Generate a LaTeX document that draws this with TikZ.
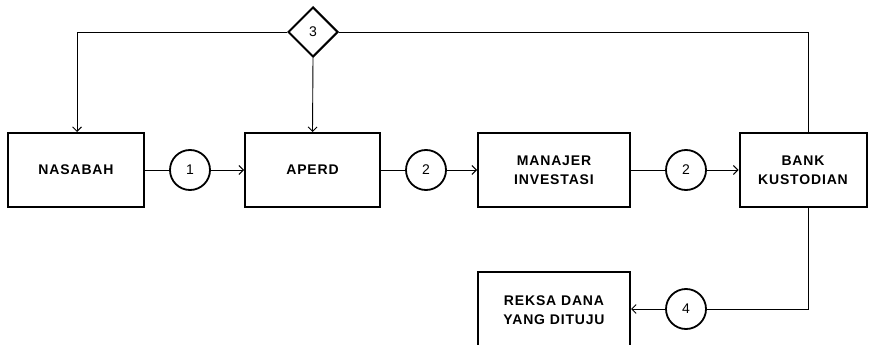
\documentclass[tikz,border=0pt]{standalone}
\usepackage{fontspec}
\setmainfont{Liberation Sans}
\newfontfamily\boxfont[LetterSpace=6]{Liberation Sans}
\usetikzlibrary{arrows.meta,shapes.geometric,calc}
\begin{document}
\begin{tikzpicture}[x=1pt,y=1pt,
  box/.style={draw, line width=2pt, minimum height=74pt, align=center,
    font=\boxfont\fontsize{14}{19}\selectfont\bfseries, inner sep=0pt},
  num/.style={draw, circle, line width=1.8pt, minimum size=40pt, inner sep=0pt,
    font=\fontsize{14}{16}\selectfont},
  dia/.style={draw, diamond, line width=2pt, minimum size=50pt, inner sep=0pt, aspect=1,
    font=\fontsize{14}{16}\selectfont},
  conn/.style={line width=0.9pt},
  arr/.style={conn, -{Straight Barb[length=4.5pt,width=9pt,line width=0.9pt]}}]
\useasboundingbox (0,0) rectangle (873,-345);
\node[box, minimum width=136pt] (nas) at (76,-170) {NASABAH};
\node[box, minimum width=135pt] (ap) at (312.5,-170) {APERD};
\node[box, minimum width=152pt] (mi) at (554,-170) {MANAJER\\INVESTASI};
\node[box, minimum width=127pt] (bk) at (803,-170) {BANK\\KUSTODIAN};
\node[box, minimum width=152pt, minimum height=76pt] (rd) at (554,-310) {REKSA DANA\\YANG DITUJU};
\node[num] (c1) at (190,-170) {1};
\node[num] (c2) at (426,-170) {2};
\node[num] (c2b) at (686,-170) {2};
\node[num] (c4) at (686,-309) {4};
\node[dia] (d3) at (313,-32) {3};
\draw[conn] (nas.east) -- (c1.west);
\draw[arr] (c1.east) -- (ap.west);
\draw[conn] (ap.east) -- (c2.west);
\draw[arr] (c2.east) -- (mi.west);
\draw[conn] (mi.east) -- (c2b.west);
\draw[arr] (c2b.east) -- (bk.west);
\draw[arr] (d3.west) -| ([xshift=1pt]nas.north);
\draw[arr] (d3.south) -- (ap.north);
\draw[conn] (d3.east) -| ([xshift=5pt]bk.north);
\draw[conn] ([xshift=5pt]bk.south) |- (c4.east);
\draw[arr] (c4.west) -- (rd.east |- c4);
\end{tikzpicture}
\end{document}
